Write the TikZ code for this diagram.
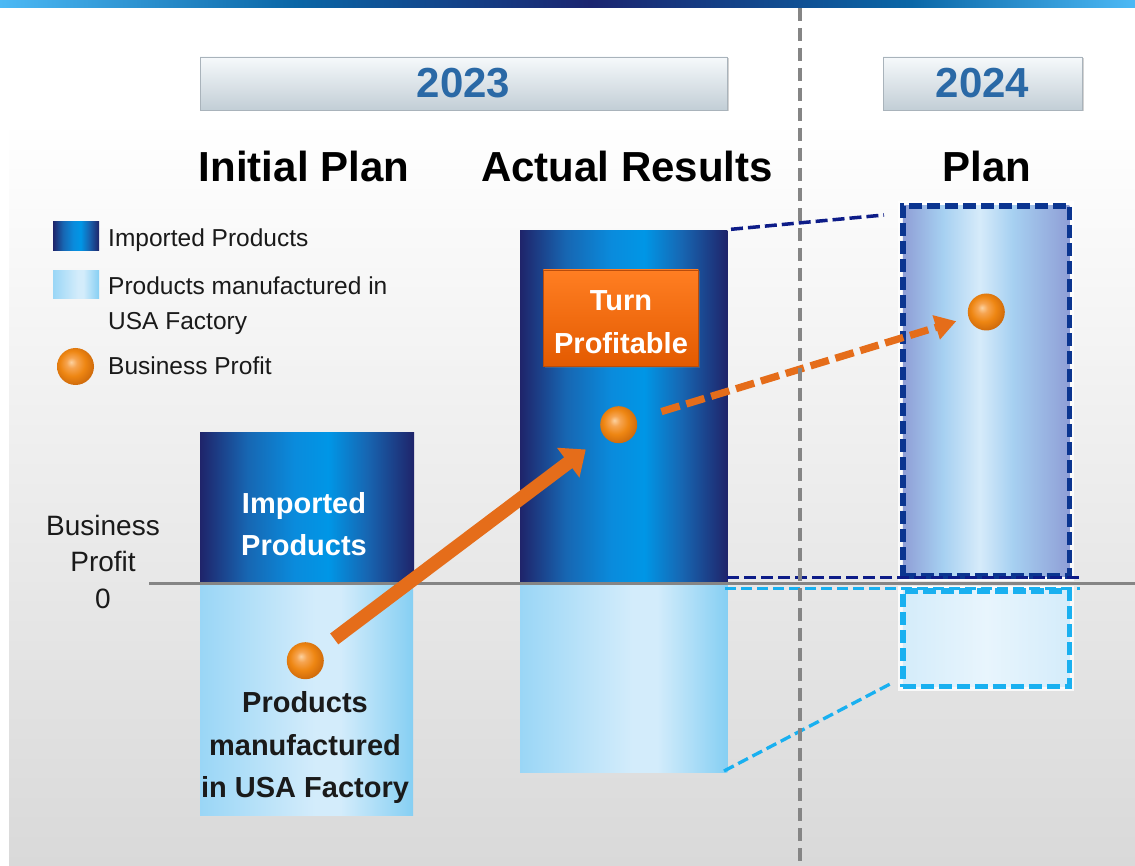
\documentclass[tikz,border=0pt]{standalone}
\usepackage{fontspec}
\setmainfont{Liberation Sans}
\usetikzlibrary{arrows.meta,shadows}

\definecolor{tbl}{HTML}{4CB9F5}
\definecolor{tbm}{HTML}{0A66A6}
\definecolor{tbd}{HTML}{1B2570}
\definecolor{dk1}{HTML}{1F246A}
\definecolor{dk2}{HTML}{1766B2}
\definecolor{dk3}{HTML}{0A8BDC}
\definecolor{dk4}{HTML}{0096E6}
\definecolor{lt1}{HTML}{9AD6F6}
\definecolor{lt2}{HTML}{D3ECFB}
\definecolor{lt3}{HTML}{86CFF3}
\definecolor{pl1}{HTML}{8F9ED6}
\definecolor{pl2}{HTML}{A6D0F1}
\definecolor{pl3}{HTML}{D6EBFA}
\definecolor{pb1}{HTML}{D4ECFA}
\definecolor{pb2}{HTML}{E8F5FD}
\definecolor{orb0}{HTML}{FCD2A0}
\definecolor{orb1}{HTML}{F6A450}
\definecolor{orb2}{HTML}{EE8612}
\definecolor{orb3}{HTML}{C9650A}
\definecolor{navyd}{HTML}{0D1C88}
\definecolor{planedge}{HTML}{0B3590}
\definecolor{skyd}{HTML}{19B0F0}
\definecolor{arrowor}{HTML}{E56D1A}
\definecolor{yeartxt}{HTML}{2A69A6}
\definecolor{zerogray}{HTML}{858585}
\definecolor{bgbot}{HTML}{D9D9D9}
\definecolor{bantop}{HTML}{F6F9FB}
\definecolor{banbot}{HTML}{C2CED6}
\definecolor{banedge}{HTML}{A9B3BB}
\definecolor{tbtop}{HTML}{FF7E22}
\definecolor{tbbot}{HTML}{E35A00}
\definecolor{tbedge}{HTML}{B84C0C}
\definecolor{inktxt}{HTML}{1A1A1A}

\pgfdeclarehorizontalshading{topbar}{100bp}{color(0bp)=(tbl); color(25bp)=(tbl); color(38bp)=(tbm); color(51bp)=(tbd); color(65bp)=(tbm); color(75bp)=(tbl); color(100bp)=(tbl)}
\pgfdeclarehorizontalshading{darkbar}{100bp}{color(0bp)=(dk1); color(25bp)=(dk1); color(36bp)=(dk2); color(47bp)=(dk3); color(55bp)=(dk4); color(64bp)=(dk2); color(75bp)=(dk1); color(100bp)=(dk1)}
\pgfdeclarehorizontalshading{lightbar}{100bp}{color(0bp)=(lt1); color(25bp)=(lt1); color(52bp)=(lt2); color(58bp)=(lt2); color(75bp)=(lt3); color(100bp)=(lt3)}
\pgfdeclarehorizontalshading{planbar}{100bp}{color(0bp)=(pl1); color(25bp)=(pl1); color(37bp)=(pl2); color(48bp)=(pl3); color(58bp)=(pl2); color(75bp)=(pl1); color(100bp)=(pl1)}
\pgfdeclarehorizontalshading{planlow}{100bp}{color(0bp)=(pb1); color(25bp)=(pb1); color(50bp)=(pb2); color(75bp)=(pb1); color(100bp)=(pb1)}
\pgfdeclareradialshading{orb}{\pgfpoint{-6bp}{6bp}}{color(0bp)=(orb0); color(7bp)=(orb1); color(17bp)=(orb2); color(30bp)=(orb3); color(50bp)=(orb3)}

\tikzset{
  barbox/.style={rectangle, inner sep=0pt, outer sep=0pt, shade},
  banner/.style={rectangle, draw=banedge, line width=0.8pt, top color=bantop, bottom color=banbot,
    text=yeartxt, font=\bfseries\fontsize{42}{50}\selectfont, inner sep=0pt,
    drop shadow={shadow xshift=1.5pt, shadow yshift=-1.5pt, opacity=0.35}},
  heading/.style={inner sep=0pt, font=\bfseries\fontsize{42}{50}\selectfont, text=black},
  legtext/.style={inner sep=0pt, font=\fontsize{24.5}{35}\selectfont, text=inktxt, align=left},
  axlabel/.style={inner sep=0pt, font=\fontsize{28}{36.5}\selectfont, text=inktxt, align=center},
  bartext/.style={inner sep=0pt, align=center},
  orbnode/.style={circle, minimum size=37pt, inner sep=0pt, shade, shading=orb},
  plandash/.style={line width=5.5pt, dash pattern=on 13pt off 5pt,
    preaction={draw=white, line width=9pt, solid, opacity=0.8}},
  thinnavy/.style={draw=navyd, line width=3.5pt, dash pattern=on 12pt off 5pt},
  thinsky/.style={draw=skyd, line width=3.3pt, dash pattern=on 11pt off 5pt},
  bigarrow/.style={draw=arrowor, line width=13.6pt, -{Triangle[length=22pt,width=36pt]}},
  dasharrow/.style={draw=arrowor, line width=7.3pt, dash pattern=on 19pt off 7pt, -{Triangle[length=21pt,width=24pt]}},
  divider/.style={draw=zerogray, line width=4pt, dash pattern=on 13pt off 7pt}
}

\begin{document}
\begin{tikzpicture}[x={(1pt,0pt)}, y={(0pt,-1pt)}]
\useasboundingbox (0,0) rectangle (1135,866);
\fill[white] (0,0) rectangle (1135,866);
\shade[top color=white, bottom color=bgbot] (9,120) rectangle (1135,866);
\shade[shading=topbar] (0,0) rectangle (1135,8);

% year banners
\node[banner, minimum width=527pt, minimum height=53pt] (b23) at (463.5,83.5) {2023};
\node[banner, minimum width=199pt, minimum height=53pt] (b24) at (982.5,83.5) {2024};

% headings
\node[heading, anchor=base] (hinit) at (304,182) {Initial Plan};
\node[heading, anchor=base] (hact) at (627,182) {Actual Results};
\node[heading, anchor=base] (hplan) at (987,182) {Plan};

% legend
\node[barbox, shading=darkbar, minimum width=46pt, minimum height=29pt] (legimp) at (76,236.5) {};
\node[barbox, shading=lightbar, minimum width=46pt, minimum height=28pt] (legusa) at (76,285) {};
\node[orbnode] (legorb) at (75.5,366.5) {};
\node[legtext, anchor=base west] (legt1) at (108,247) {Imported Products};
\node[legtext, anchor=base west] (legt2) at (108,329.3) {Products manufactured in\\USA Factory};
\node[legtext, anchor=base west] (legt3) at (108,374) {Business Profit};

% axis label
\node[axlabel, anchor=base] (bp0) at (103,608) {Business\\Profit\\0};

% initial plan bars
\node[barbox, shading=darkbar, minimum width=214pt, minimum height=151pt] (initimp) at (307,507.5) {};
\node[barbox, shading=lightbar, minimum width=213pt, minimum height=232pt] (initusa) at (306.5,699) {};
\node[bartext, anchor=base, text=white, font=\bfseries\fontsize{29}{42.4}\selectfont] (initimpt) at (304,555.7) {Imported\\Products};
\node[bartext, anchor=base, text=inktxt, font=\bfseries\fontsize{29}{42.7}\selectfont] (initusat) at (305,797.7) {Products\\manufactured\\in USA Factory};

% actual results bars
\node[barbox, shading=darkbar, minimum width=207.3pt, minimum height=352pt] (actimp) at (623.7,407) {};
\node[barbox, shading=lightbar, minimum width=207.3pt, minimum height=189pt] (actusa) at (623.7,677.5) {};
\node[rectangle, draw=tbedge, line width=0.8pt, top color=tbtop, bottom color=tbbot, minimum width=155pt, minimum height=96.7pt,
  drop shadow={shadow xshift=1.5pt, shadow yshift=-1.5pt, opacity=0.35}] (tbox) at (620.8,318.3) {};
\node[bartext, anchor=base, text=white, font=\bfseries\fontsize{29}{43.3}\selectfont] (tboxt) at (621,353.3) {Turn\\Profitable};

% plan bars
\node[barbox, shading=planbar, draw=planedge, plandash, minimum width=166.5pt, minimum height=370pt] (planimp) at (986.2,391) {};
\node[barbox, shading=planlow, draw=skyd, plandash, minimum width=166.5pt, minimum height=95.7pt] (planusa) at (986.2,638.8) {};

% zero line
\coordinate (zl) at (149,583.3);
\coordinate (zr) at (1135,583.3);
\draw[zerogray, line width=3pt] (zl) -- (zr);

% projection lines
\coordinate (n1) at (731,229.3);
\coordinate (n2) at (884,215);
\coordinate (n3) at (727,577.7);
\coordinate (n4) at (1083,577.7);
\coordinate (s1) at (725,588.3);
\coordinate (s2) at (1080,588.3);
\coordinate (s3) at (724,771);
\coordinate (s4) at (892,683);
\draw[thinnavy] (n1) -- (n2);
\draw[thinnavy] (n3) -- (n4);
\draw[thinsky] (s1) -- (s2);
\draw[thinsky] (s3) -- (s4);

% business profit markers
\node[orbnode] (ball1) at (305.3,660.7) {};
\node[orbnode] (ball2) at (618.7,424.7) {};
\node[orbnode] (ball3) at (986.3,312) {};

% arrows
\draw[bigarrow, shorten <=17.5pt, shorten >=22.5pt] (ball1) -- (ball2);
\draw[dasharrow, shorten <=26pt, shorten >=12.7pt] (ball2) -- (ball3);

% divider
\coordinate (dtop) at (800,8);
\coordinate (dbot) at (800,866);
\draw[divider] (dtop) -- (dbot);
\end{tikzpicture}
\end{document}
